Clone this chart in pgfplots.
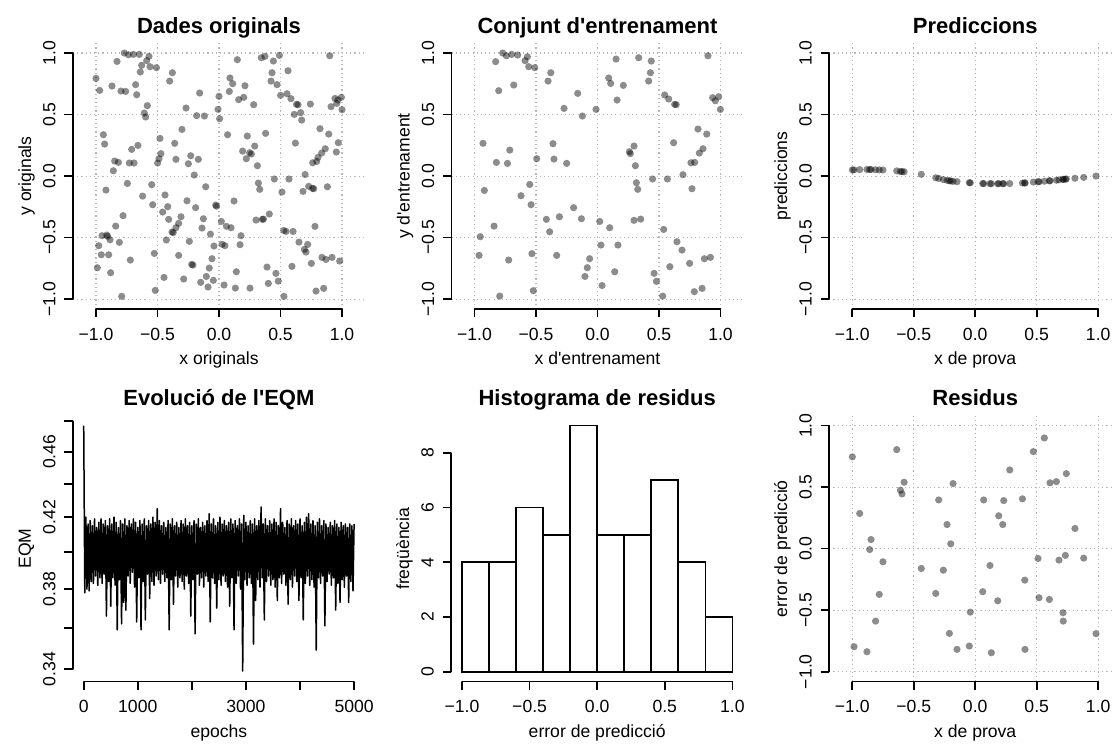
\documentclass[border=0pt]{standalone}
\usepackage{fontspec}
\setmainfont{Liberation Sans}
\usepackage{pgfplots}
\pgfplotsset{compat=1.18}
\definecolor{gridgray}{RGB}{185,185,185}
\newcommand\tickfont{\fontsize{17.6bp}{20bp}\selectfont}
\newcommand\labfont{\fontsize{17.6bp}{20bp}\selectfont}
\newcommand\titfont{\bfseries\fontsize{22bp}{24bp}\selectfont}
\tikzset{raxis/.style={black, line width=1.67bp, line cap=round}}
\pgfplotsset{
  rbase/.style={
    scale only axis, height=265.7bp, clip=false,
    axis x line*=bottom, axis y line*=left,
    axis line style={draw=none,-},
    tick align=outside, major tick length=8.5bp,
    major tick style={black, line width=1.67bp},
    xticklabel style={font=\tickfont, anchor=base, inner sep=0pt},
    yticklabel style={font=\tickfont, rotate=90, anchor=base, inner sep=0pt},
    xticklabel shift=22.7bp, yticklabel shift=9bp,
    label style={font=\labfont},
    xlabel style={at={([yshift=-56bp]axis description cs:0.5,0)}, anchor=base},
    ylabel style={at={([xshift=-42bp]axis description cs:0,0.5)}, anchor=base},
    title style={at={([yshift=4bp]axis description cs:0.5,1)}, anchor=base, font=\titfont},
    scaled ticks=false,
  },
  rgrid/.style={grid=major, major grid style={draw=gridgray, line width=1.1bp, dash pattern=on 1.1bp off 3.1bp}},
  rsq/.style={xtick={-1,-0.5,0,0.5,1}, ytick={-1,-0.5,0,0.5,1},
    xticklabels={−1.0,−0.5,0.0,0.5,1.0}, yticklabels={−1.0,−0.5,0.0,0.5,1.0},
    ymin=-1.08, ymax=1.08},
  rpts/.style={only marks, mark=*, mark size=3.6bp, draw opacity=0,
    mark options={solid, draw=black, draw opacity=0, fill=black, fill opacity=0.45}},
}
\begin{document}
\begin{tikzpicture}
\useasboundingbox (0,0) rectangle (1115bp,-747bp);
% ---------------- Panel 1
\begin{axis}[rbase, rgrid, rsq, at={(73bp,-43.2bp)}, anchor=north west, width=292bp,
  xmin=-1.187, xmax=1.187,
  title={Dades originals}, xlabel={x originals}, ylabel={y originals}]
\addplot[rpts] coordinates {
(-0.770,1.000) (-0.737,0.986) (-0.696,0.989) (-0.648,0.989) (-0.569,0.973) (-0.829,0.932) (-0.588,0.938) (-0.629,0.900) (-0.561,0.889) (-0.509,0.881)
(-0.640,0.846) (-0.379,0.840) (-0.401,0.772) (-1.000,0.794) (-0.970,0.696) (-0.870,0.732) (-0.797,0.691) (-0.759,0.688) (-0.678,0.743) (-0.669,0.661)
(-0.583,0.572) (-0.607,0.512) (-0.596,0.480) (-0.157,0.675) (-0.268,0.553) (-0.182,0.491) (-0.119,0.488) (0.000,0.648) (-0.008,0.542) (0.005,0.466)
(-0.301,0.379) (-0.940,0.336) (-0.930,0.260) (-0.480,0.306) (-0.360,0.266) (-0.710,0.217) (-0.659,0.249) (-0.472,0.182) (-0.488,0.141) (-0.499,0.106)
(-0.848,0.122) (-0.818,0.111) (-0.729,0.106) (-0.691,0.106) (-0.350,0.136) (-0.249,0.100) (-0.230,0.165) (-0.168,0.136) (-0.859,0.043) (-0.201,0.008)
(0.149,0.946) (0.344,0.962) (0.374,0.973) (0.442,0.935) (0.491,0.981) (0.900,0.978) (0.431,0.840) (0.561,0.856) (0.423,0.772) (0.472,0.743)
(0.089,0.797) (0.111,0.751) (0.211,0.734) (0.084,0.688) (0.160,0.621) (0.201,0.640) (0.282,0.580) (0.501,0.656) (0.553,0.669) (0.585,0.629)
(0.630,0.583) (0.643,0.580) (0.743,0.585) (0.612,0.501) (0.664,0.515) (0.672,0.455) (0.943,0.631) (0.967,0.618) (0.995,0.640) (0.911,0.564)
(0.957,0.591) (1.000,0.539) (0.070,0.336) (0.230,0.325) (0.379,0.347) (0.821,0.385) (0.892,0.341) (0.970,0.271) (0.621,0.268) (0.954,0.195)
(0.290,0.244) (0.192,0.203) (0.249,0.190) (0.263,0.179) (0.222,0.141) (0.312,0.084) (0.864,0.222) (0.835,0.187) (0.805,0.152) (0.762,0.108)
(0.794,0.119) (0.700,0.012)
(-0.745,-0.060) (-0.919,-0.114) (-0.547,-0.070) (-0.621,-0.163) (-0.539,-0.233) (-0.439,-0.154) (-0.417,-0.249) (-0.458,-0.293) (-0.409,-0.352) (-0.309,-0.331)
(-0.328,-0.385) (-0.350,-0.420) (-0.382,-0.455) (-0.372,-0.460) (-0.260,-0.201) (-0.190,-0.257) (-0.108,-0.087) (-0.027,-0.236) (-0.020,-0.245) (-0.780,-0.322)
(-0.840,-0.407) (-0.951,-0.485) (-0.913,-0.480) (-0.905,-0.490) (-0.886,-0.518) (-0.978,-0.566) (-0.957,-0.640) (-0.897,-0.640) (-0.810,-0.539) (-0.989,-0.745)
(-0.881,-0.786) (-0.721,-0.683) (-0.791,-0.978) (-0.428,-0.520) (-0.241,-0.531) (-0.127,-0.347) (-0.138,-0.423) (-0.070,-0.472) (-0.041,-0.569) (-0.526,-0.629)
(-0.328,-0.645) (-0.057,-0.672) (-0.079,-0.748) (-0.222,-0.718) (-0.212,-0.724) (-0.103,-0.816) (-0.046,-0.848) (-0.149,-0.864) (-0.089,-0.902) (-0.287,-0.837)
(-0.447,-0.824) (-0.518,-0.930)
(0.320,-0.057) (0.331,-0.108) (0.450,-0.024) (0.569,-0.024) (0.729,-0.084) (0.770,-0.103) (0.760,-0.100) (0.683,-0.125) (0.512,-0.130) (0.881,-0.087)
(0.122,-0.203) (0.019,-0.369) (0.060,-0.409) (0.098,-0.420) (0.301,-0.358) (0.352,-0.352) (0.362,-0.350) (0.409,-0.309) (0.179,-0.485) (0.025,-0.555)
(0.048,-0.566) (0.171,-0.558) (0.526,-0.442) (0.545,-0.450) (0.602,-0.450) (0.780,-0.409) (0.650,-0.537) (0.721,-0.556) (0.694,-0.596) (0.707,-0.618)
(0.751,-0.710) (0.837,-0.661) (0.870,-0.678) (0.919,-0.661) (0.981,-0.691) (0.593,-0.734) (0.390,-0.740) (0.463,-0.791) (0.482,-0.854) (0.401,-0.873)
(0.141,-0.778) (0.041,-0.886) (0.133,-0.911) (0.252,-0.911) (0.528,-0.978) (0.789,-0.935) (0.851,-0.913)
};
\draw[raxis] (axis cs:-1,-1.08) -- (axis cs:1,-1.08);
\draw[raxis] (axis cs:-1.187,-1) -- (axis cs:-1.187,1);
\end{axis}
% ---------------- Panel 2
\begin{axis}[rbase, rgrid, rsq, at={(451.5bp,-43.2bp)}, anchor=north west, width=292bp,
  xmin=-1.187, xmax=1.187,
  title={Conjunt d\textquotesingle entrenament}, xlabel={x d\textquotesingle entrenament}, ylabel={y d\textquotesingle entrenament}]
\addplot[rpts] coordinates {
(-0.771,1.000) (-0.828,0.930) (-0.741,0.978) (-0.698,0.989) (-0.649,0.984) (-0.570,0.970) (-0.589,0.938) (-0.559,0.889) (-0.510,0.881) (-0.380,0.840)
(-0.402,0.772) (-0.803,0.694) (-0.681,0.740) (-0.161,0.672) (-0.272,0.550) (-0.123,0.488) (-0.012,0.542)
(0.151,0.951) (0.335,0.962) (0.437,0.935) (0.898,0.978) (0.430,0.840) (0.416,0.772) (0.091,0.797) (0.107,0.753) (0.210,0.737) (0.159,0.618)
(0.546,0.659) (0.579,0.626) (0.627,0.583) (0.640,0.580) (0.936,0.637) (0.958,0.612) (0.985,0.645) (0.999,0.542) (0.817,0.382) (0.888,0.341)
(0.619,0.271) (0.858,0.222) (0.828,0.187) (0.790,0.111) (0.760,0.108) (0.695,0.011) (0.768,-0.103)
(0.297,0.244) (0.259,0.198) (0.267,0.182) (0.308,0.084) (0.316,-0.054) (0.327,-0.108) (0.448,-0.024) (0.568,-0.024)
(-0.931,0.266) (-0.713,0.211) (-0.822,0.111) (-0.732,0.103) (-0.920,-0.117) (-0.362,0.263) (-0.354,0.138) (-0.494,0.141) (-0.251,0.103)
(-0.551,-0.068) (-0.622,-0.160) (-0.540,-0.233) (-0.194,-0.257) (-0.131,-0.347) (-0.310,-0.331) (-0.416,-0.352) (-0.389,-0.453)
(0.018,-0.369) (0.099,-0.420) (0.297,-0.360) (0.351,-0.350) (0.538,-0.434) (0.646,-0.534) (0.687,-0.602)
(-0.841,-0.407) (-0.953,-0.493) (-0.963,-0.645) (-0.722,-0.683) (-0.533,-0.631) (-0.332,-0.645) (-0.064,-0.672) (-0.083,-0.745) (-0.102,-0.816) (0.028,-0.561)
(0.166,-0.561) (0.140,-0.778) (0.037,-0.890) (0.588,-0.737) (0.460,-0.791) (0.479,-0.856) (0.530,-0.976) (0.749,-0.710) (0.869,-0.672) (0.918,-0.661)
(0.787,-0.940) (0.850,-0.913) (-0.795,-0.976) (-0.522,-0.932)
};
\draw[raxis] (axis cs:-1,-1.08) -- (axis cs:1,-1.08);
\draw[raxis] (axis cs:-1.187,-1) -- (axis cs:-1.187,1);
\end{axis}
% ---------------- Panel 3
\begin{axis}[rbase, rgrid, rsq, at={(829.2bp,-43.2bp)}, anchor=north west, width=285.8bp,
  xmin=-1.187, xmax=1.1366,
  title style={at={([xshift=3.1bp,yshift=4bp]axis description cs:0.5,1)}},
  xlabel style={at={([xshift=3.1bp,yshift=-56bp]axis description cs:0.5,0)}},
  title={Prediccions}, xlabel={x de prova}, ylabel={prediccions}]
\addplot[rpts] coordinates {
(-0.999,0.050) (-0.985,0.050) (-0.939,0.052) (-0.880,0.053) (-0.858,0.053) (-0.847,0.053) (-0.810,0.051) (-0.780,0.050) (-0.750,0.049) (-0.638,0.042)
(-0.608,0.037) (-0.595,0.036) (-0.578,0.035) (-0.438,0.014) (-0.321,-0.014) (-0.297,-0.019) (-0.259,-0.029) (-0.229,-0.035) (-0.210,-0.038) (-0.199,-0.040)
(-0.180,-0.043) (-0.148,-0.046) (-0.048,-0.054) (-0.040,-0.055) (0.061,-0.061) (0.069,-0.061) (0.120,-0.062) (0.131,-0.062) (0.183,-0.062) (0.191,-0.062)
(0.224,-0.062) (0.232,-0.062) (0.281,-0.061) (0.384,-0.057) (0.403,-0.056) (0.405,-0.056) (0.473,-0.049) (0.511,-0.047) (0.519,-0.046) (0.562,-0.042)
(0.603,-0.039) (0.608,-0.038) (0.660,-0.034) (0.681,-0.031) (0.714,-0.027) (0.716,-0.027) (0.733,-0.025) (0.741,-0.024) (0.811,-0.018) (0.882,-0.011)
(0.982,0.000)
};
\draw[raxis] (axis cs:-1,-1.08) -- (axis cs:1,-1.08);
\draw[raxis] (axis cs:-1.187,-1) -- (axis cs:-1.187,1);
\end{axis}
% ---------------- Panel 4
\begin{axis}[rbase, at={(72.9bp,-415.8bp)}, anchor=north west, width=292bp,
  xmin=-199.96, xmax=5199.96, ymode=log, ymin=0.3341, ymax=0.4836,
  xtick={0,1000,2000,3000,4000,5000}, xticklabels={0,1000,,3000,,5000},
  ytick={0.34,0.36,0.38,0.40,0.42,0.44,0.46,0.48}, yticklabels={0.34,,0.38,,0.42,,0.46,},
  yminorticks=false, xminorticks=false,
  title={Evolució de l\textquotesingle EQM}, xlabel={epochs}, ylabel={EQM}]
\addplot[black, line width=1.5bp, line join=round, mark=none] coordinates {
(0,0.477)(20,0.378)(40,0.420)(60,0.380)(80,0.416)(100,0.379)(120,0.418)(140,0.384)(160,0.415)(180,0.383)
(200,0.419)(220,0.387)(240,0.414)(260,0.382)(280,0.417)(300,0.386)(320,0.419)(340,0.383)(360,0.416)(380,0.388)
(400,0.418)(420,0.366)(440,0.415)(460,0.384)(480,0.419)(500,0.371)(520,0.416)(540,0.386)(560,0.420)(580,0.382)
(600,0.417)(620,0.359)(640,0.414)(660,0.385)(680,0.418)(700,0.362)(720,0.416)(740,0.373)(760,0.419)(780,0.369)
(800,0.415)(820,0.387)(840,0.418)(860,0.383)(880,0.416)(900,0.389)(920,0.419)(940,0.381)(960,0.417)(980,0.363)
(1000,0.414)(1020,0.386)(1040,0.418)(1060,0.359)(1080,0.416)(1100,0.384)(1120,0.419)(1140,0.364)(1160,0.415)(1180,0.388)
(1200,0.418)(1220,0.375)(1240,0.416)(1260,0.384)(1280,0.420)(1300,0.382)(1320,0.417)(1340,0.387)(1360,0.425)(1380,0.385)
(1400,0.418)(1420,0.383)(1440,0.415)(1460,0.388)(1480,0.417)(1500,0.384)(1520,0.414)(1540,0.386)(1560,0.418)(1580,0.359)
(1600,0.416)(1620,0.385)(1640,0.419)(1660,0.372)(1680,0.415)(1700,0.387)(1720,0.417)(1740,0.381)(1760,0.414)(1780,0.386)
(1800,0.418)(1820,0.384)(1840,0.416)(1860,0.380)(1880,0.419)(1900,0.387)(1920,0.415)(1940,0.383)(1960,0.417)(1980,0.366)
(2000,0.415)(2020,0.385)(2040,0.418)(2060,0.357)(2080,0.416)(2100,0.388)(2120,0.419)(2140,0.382)(2160,0.414)(2180,0.386)
(2200,0.417)(2220,0.381)(2240,0.415)(2260,0.387)(2280,0.418)(2300,0.384)(2320,0.422)(2340,0.363)(2360,0.416)(2380,0.386)
(2400,0.419)(2420,0.383)(2440,0.415)(2460,0.370)(2480,0.417)(2500,0.385)(2520,0.420)(2540,0.382)(2560,0.416)(2580,0.387)
(2600,0.418)(2620,0.384)(2640,0.415)(2660,0.381)(2680,0.417)(2700,0.371)(2720,0.419)(2740,0.386)(2760,0.416)(2780,0.359)
(2800,0.418)(2820,0.383)(2840,0.415)(2860,0.387)(2880,0.419)(2900,0.380)(2920,0.416)(2940,0.339)(2960,0.421)(2980,0.385)
(3000,0.417)(3020,0.382)(3040,0.415)(3060,0.386)(3080,0.418)(3100,0.383)(3120,0.416)(3140,0.352)(3160,0.419)(3180,0.374)
(3200,0.415)(3220,0.385)(3240,0.418)(3260,0.381)(3280,0.426)(3300,0.386)(3320,0.416)(3340,0.364)(3360,0.419)(3380,0.384)
(3400,0.415)(3420,0.387)(3440,0.418)(3460,0.382)(3480,0.416)(3500,0.385)(3520,0.419)(3540,0.381)(3560,0.417)(3580,0.374)
(3600,0.415)(3620,0.386)(3640,0.425)(3660,0.383)(3680,0.417)(3700,0.388)(3720,0.414)(3740,0.382)(3760,0.418)(3780,0.372)
(3800,0.416)(3820,0.385)(3840,0.419)(3860,0.381)(3880,0.415)(3900,0.387)(3920,0.418)(3940,0.384)(3960,0.416)(3980,0.374)
(4000,0.419)(4020,0.386)(4040,0.415)(4060,0.364)(4080,0.417)(4100,0.383)(4120,0.420)(4140,0.387)(4160,0.422)(4180,0.382)
(4200,0.416)(4220,0.385)(4240,0.418)(4260,0.381)(4280,0.415)(4300,0.349)(4320,0.417)(4340,0.386)(4360,0.419)(4380,0.383)
(4400,0.415)(4420,0.387)(4440,0.418)(4460,0.361)(4480,0.416)(4500,0.384)(4520,0.414)(4540,0.388)(4560,0.417)(4580,0.382)
(4600,0.415)(4620,0.386)(4640,0.418)(4660,0.369)(4680,0.416)(4700,0.383)(4720,0.414)(4740,0.373)(4760,0.417)(4780,0.385)
(4800,0.415)(4820,0.381)(4840,0.416)(4860,0.387)(4880,0.414)(4900,0.373)(4920,0.416)(4940,0.384)(4960,0.415)(4980,0.379)
(5000,0.416)
};
\draw[raxis] (axis cs:0,0.3341) -- (axis cs:5000,0.3341);
\draw[raxis] (axis cs:-199.96,0.34) -- (axis cs:-199.96,0.48);
\end{axis}
% ---------------- Panel 5
\begin{axis}[rbase, at={(451.2bp,-415.8bp)}, anchor=north west, width=292bp,
  xmin=-1.08, xmax=1.08, ymin=-0.36, ymax=9.36,
  xtick={-1,-0.5,0,0.5,1}, xticklabels={−1.0,−0.5,0.0,0.5,1.0},
  ytick={0,2,4,6,8}, yticklabels={0,2,4,6,8},
  title={Histograma de residus}, xlabel={error de predicció}, ylabel={freqüència}]
\addplot[ybar interval, fill=white, draw=black, line width=1.67bp] coordinates {
(-1,4) (-0.8,4) (-0.6,6) (-0.4,5) (-0.2,9) (0,5) (0.2,5) (0.4,7) (0.6,4) (0.8,2) (1,2)
};
\draw[raxis] (axis cs:-1,-0.36) -- (axis cs:1,-0.36);
\draw[raxis] (axis cs:-1.08,0) -- (axis cs:-1.08,8);
\end{axis}
% ---------------- Panel 6
\begin{axis}[rbase, rgrid, rsq, at={(829.2bp,-415.8bp)}, anchor=north west, width=285.8bp,
  xmin=-1.187, xmax=1.1366,
  title style={at={([xshift=3.1bp,yshift=4bp]axis description cs:0.5,1)}},
  xlabel style={at={([xshift=3.1bp,yshift=-56bp]axis description cs:0.5,0)}},
  title={Residus}, xlabel={x de prova}, ylabel={error de predicció}]
\addplot[rpts] coordinates {
(-0.999,0.746) (-0.985,-0.797) (-0.939,0.286) (-0.880,-0.838) (-0.847,0.074) (-0.858,-0.007) (-0.810,-0.589) (-0.780,-0.372) (-0.750,-0.107) (-0.638,0.805)
(-0.608,0.475) (-0.595,0.445) (-0.578,0.540) (-0.438,-0.161) (-0.321,-0.364) (-0.297,0.396) (-0.259,-0.175) (-0.229,0.196) (-0.210,-0.689) (-0.199,0.039)
(-0.180,0.529) (-0.148,-0.819) (-0.048,-0.792) (-0.040,-0.516) (0.061,-0.350) (0.069,0.396) (0.120,-0.137) (0.131,-0.846) (0.183,-0.424) (0.191,0.267)
(0.224,0.196) (0.232,0.391) (0.281,0.640) (0.384,0.405) (0.403,-0.256) (0.405,-0.819) (0.473,0.789) (0.511,-0.080) (0.519,-0.399) (0.562,0.900)
(0.603,-0.413) (0.608,0.535) (0.660,0.545) (0.681,-0.093) (0.714,-0.521) (0.716,-0.589) (0.733,-0.055) (0.741,0.610) (0.811,0.164) (0.882,-0.077)
(0.982,-0.691)
};
\draw[raxis] (axis cs:-1,-1.08) -- (axis cs:1,-1.08);
\draw[raxis] (axis cs:-1.187,-1) -- (axis cs:-1.187,1);
\end{axis}
\end{tikzpicture}
\end{document}
